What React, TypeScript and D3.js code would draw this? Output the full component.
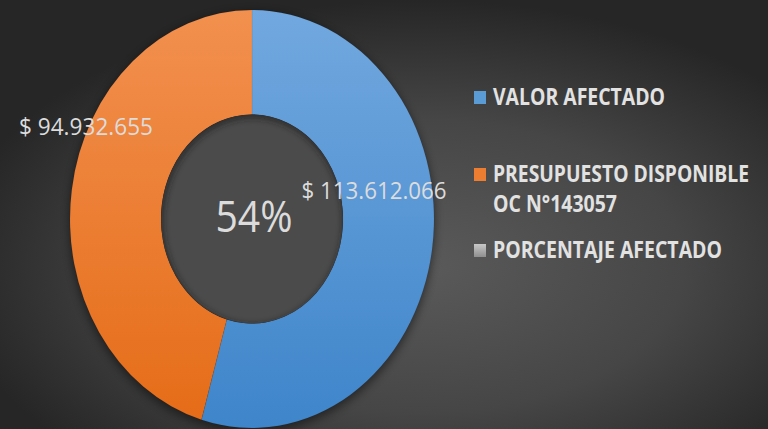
import React from "react";
import * as d3 from "d3";

const categories = ["VALOR AFECTADO", "PRESUPUESTO DISPONIBLE", "PORCENTAJE AFECTADO"];
const legendSub = ["", "OC N°143057", ""];
const values = [113612066, 94932655];
const sliceColorsTop = ["#72a8df", "#f2904f"];
const sliceColorsBottom = ["#3e85ca", "#e56c17"];
const legendColors = ["#5b9bd5", "#ed7d31", "#a5a5a5"];

const W = 768;
const H = 429;
const cx = 252;
const cy = 219;
const rx = 182;
const ry = 209;
const sy = ry / rx;

const loc = d3.formatLocale({ decimal: ",", thousands: ".", grouping: [3], currency: ["$ ", ""] });
const money = loc.format("$,.0f");
const pct = d3.format(".0%");

export default function App() {
  const pie = d3.pie<number>().sort(null).startAngle(0).endAngle(2 * Math.PI)(values);
  const arc = d3.arc<d3.PieArcDatum<number>>().innerRadius(rx * 0.5).outerRadius(rx);
  const total = d3.sum(values);
  const share = values[0] / total;

  const labelPos = [
    { x: 374, y: 199, anchor: "middle" },
    { x: 86, y: 135, anchor: "middle" },
  ];
  const legendRows = [
    { y: 105, textLen: 172, subLen: 0 },
    { y: 182, textLen: 256, subLen: 124 },
    { y: 258, textLen: 229, subLen: 0 },
  ];

  return (
    <svg width={W} height={H} style={{ position: "absolute", left: 0, top: 0, display: "block" }}>
      <defs>
        <radialGradient id="bg" cx="0.55" cy="0.62" r="0.62" gradientUnits="objectBoundingBox">
          <stop offset="0" stopColor="#5a5a5a" />
          <stop offset="0.55" stopColor="#464646" />
          <stop offset="1" stopColor="#262626" />
        </radialGradient>
        {values.map((_, i) => (
          <linearGradient key={i} id={`sg${i}`} gradientUnits="userSpaceOnUse" x1={0} y1={-rx} x2={0} y2={rx}>
            <stop offset="0" stopColor={sliceColorsTop[i]} />
            <stop offset="1" stopColor={sliceColorsBottom[i]} />
          </linearGradient>
        ))}
        <linearGradient id="lg2" x1="0" y1="0" x2="0" y2="1">
          <stop offset="0" stopColor="#c8c8c8" />
          <stop offset="1" stopColor="#8f8f8f" />
        </linearGradient>
        <filter id="blur" x="-20%" y="-20%" width="140%" height="140%">
          <feGaussianBlur stdDeviation="4" />
        </filter>
        <filter id="blur2" x="-20%" y="-20%" width="140%" height="140%">
          <feGaussianBlur stdDeviation="3" />
        </filter>
        <clipPath id="holeClip">
          <ellipse cx={0} cy={0} rx={rx * 0.5} ry={rx * 0.5} />
        </clipPath>
      </defs>
      <rect x={0} y={0} width={W} height={H} fill="url(#bg)" />
      <g transform={`translate(${cx},${cy}) scale(1,${sy})`}>
        <circle cx={0} cy={3} r={rx + 1} fill="#000" opacity={0.45} filter="url(#blur)" />
        {pie.map((d, i) => (
          <path key={i} d={arc(d) || ""} fill={`url(#sg${i})`} stroke="rgba(0,0,0,0.08)" strokeWidth={0.6} />
        ))}
        <g clipPath="url(#holeClip)">
          <circle cx={0} cy={0} r={rx * 0.5} fill="#4b4b4b" />
          <circle cx={1} cy={2} r={rx * 0.5 + 2} fill="none" stroke="#1a1a1a" strokeWidth={6} opacity={0.7} filter="url(#blur2)" />
        </g>
      </g>
      <g fill="#dcdcdc" style={{ fontFamily: "'Open Sans', 'Noto Sans', sans-serif" }}>
        <text
          transform={`translate(${cx + 2},${cy + 13}) scale(1,${sy})`}
          textAnchor="middle"
          fontSize={38}
          textLength={77}
          lengthAdjust="spacingAndGlyphs"
        >
          {pct(share)}
        </text>
        {values.map((v, i) => (
          <text
            key={i}
            transform={`translate(${labelPos[i].x},${labelPos[i].y}) scale(1,${sy})`}
            textAnchor="middle"
            fontSize={21}
            textLength={i === 0 ? 145 : 134}
            lengthAdjust="spacingAndGlyphs"
          >
            {money(v)}
          </text>
        ))}
      </g>
      <g style={{ fontFamily: "'Open Sans', 'Noto Sans', sans-serif" }} fontWeight="bold" fill="#e2e2e2">
        {categories.map((c, i) => (
          <g key={c}>
            <rect x={474} y={legendRows[i].y - 14} width={12} height={13} fill={i === 2 ? "url(#lg2)" : legendColors[i]} />
            <text
              transform={`translate(493,${legendRows[i].y}) scale(1,${sy})`}
              fontSize={20.5}
              textLength={legendRows[i].textLen}
              lengthAdjust="spacingAndGlyphs"
            >
              {c}
            </text>
            {legendSub[i] && (
              <text
                transform={`translate(493,${legendRows[i].y + 30}) scale(1,${sy})`}
                fontSize={20.5}
                textLength={legendRows[i].subLen}
                lengthAdjust="spacingAndGlyphs"
              >
                {legendSub[i]}
              </text>
            )}
          </g>
        ))}
      </g>
    </svg>
  );
}
